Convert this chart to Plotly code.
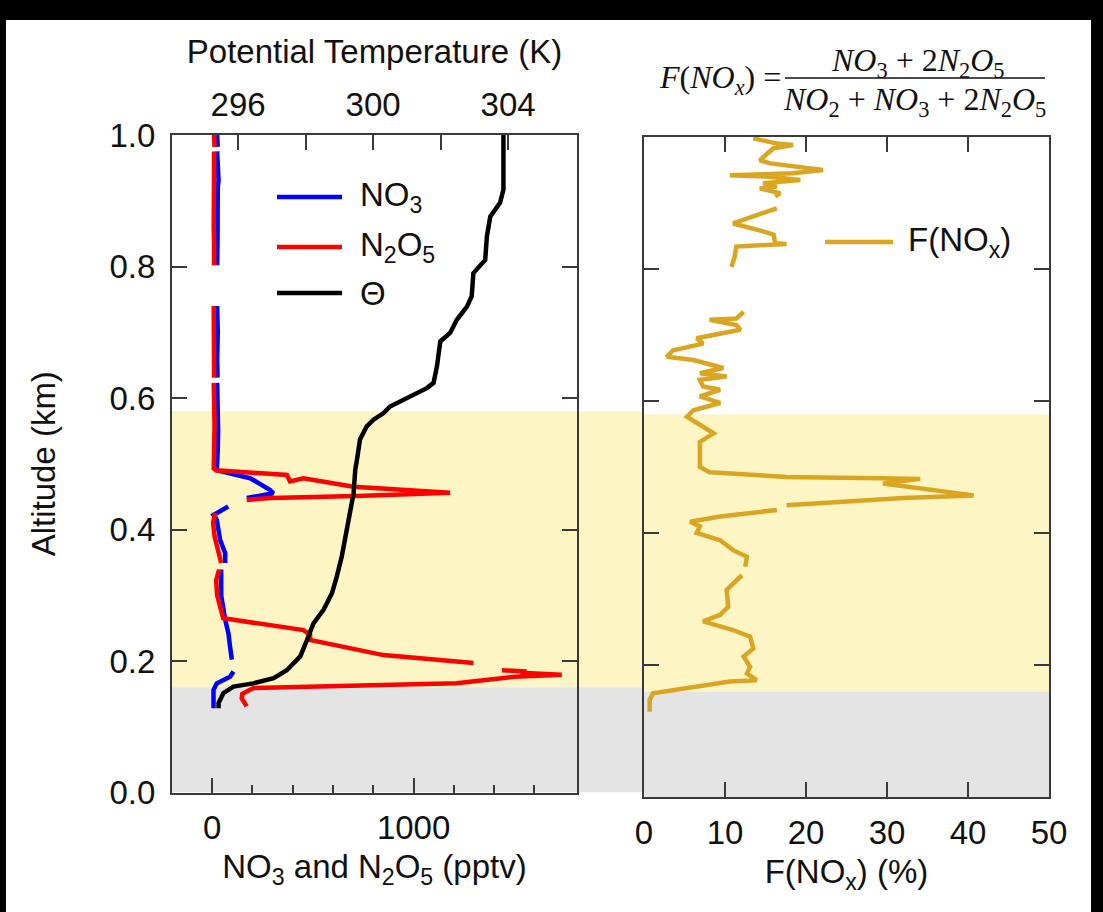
import plotly.graph_objects as go

W, H = 1103, 912

# ---------------- data ----------------
theta_alt = [1.000, 0.917, 0.897, 0.876, 0.846, 0.810, 0.790, 0.755, 0.739, 0.719, 0.699, 0.686,
             0.648, 0.623, 0.615, 0.597, 0.587, 0.577, 0.567, 0.557, 0.537, 0.506, 0.491, 0.455,
             0.440, 0.415, 0.384, 0.359, 0.328, 0.303, 0.278, 0.257, 0.232, 0.207, 0.186, 0.174,
             0.166, 0.161, 0.151, 0.136, 0.128]
theta_K = [303.86, 303.86, 303.76, 303.47, 303.37, 303.32, 302.97, 302.92, 302.78, 302.48, 302.28, 301.99,
           301.89, 301.79, 301.59, 300.90, 300.50, 300.31, 300.01, 299.81, 299.61, 299.52, 299.47, 299.42,
           299.37, 299.27, 299.17, 299.07, 298.92, 298.78, 298.53, 298.23, 298.04, 297.84, 297.44, 297.05,
           296.45, 295.86, 295.56, 295.42, 295.42]

n2o5_alt = [1.000, 0.982, None, 0.975, 0.940, 0.900, 0.860, 0.830, 0.802, None,
            0.740, 0.700, 0.660, 0.631, None,
            0.623, 0.600, 0.560, 0.520, 0.493, 0.490, 0.483, 0.473, 0.478, 0.465, 0.460, 0.456,
            0.451, 0.448, 0.445, None,
            0.425, 0.410, 0.390, 0.370, 0.355, 0.349, None,
            0.339, 0.323, 0.300, 0.280, 0.265, 0.247, 0.240, 0.232, 0.209, 0.197, None,
            0.186, 0.184, 0.182, 0.179, 0.176, 0.168, 0.166, 0.159, 0.150, 0.143, 0.131]
n2o5_pptv = [10, 12, None, 10, 8, 10, 8, 10, 10, None,
             8, 10, 8, 10, None,
             8, 10, 12, 10, 8, 20, 371, 387, 453, 701, 933, 1181,
             718, 288, 172, None,
             15, 5, 12, 30, 40, 45, None,
             35, 20, 25, 40, 55, 453, 486, 486, 850, 1297, None,
             1438, 1560, 1530, 1735, 1500, 1240, 1214, 205, 150, 147, 172]

no3_alt = [1.000, 0.982, None, 0.975, 0.931, 0.920, 0.880, 0.840, 0.802, None,
           0.740, 0.700, 0.660, 0.631, None,
           0.623, 0.590, 0.550, 0.520, 0.493, 0.490, 0.478, 0.460, 0.455, 0.448, None,
           0.435, 0.422, 0.415, 0.384, 0.364, 0.349, None,
           0.339, 0.300, 0.263, 0.242, 0.222, 0.202, None,
           0.184, 0.176, 0.166, 0.156, 0.128]
no3_pptv = [25, 28, None, 25, 32, 28, 25, 27, 25, None,
            25, 28, 25, 27, None,
            25, 28, 30, 28, 25, 23, 189, 288, 304, 172, None,
            80, 7, 23, 40, 65, 65, None,
            45, 45, 65, 81, 89, 98, None,
            106, 89, 23, 7, 7]

fnox_alt = [0.998, 0.990, 0.988, 0.983, 0.965, 0.960, 0.950, 0.945, 0.942, 0.940, 0.935, 0.930,
            0.925, 0.922, 0.915, 0.910, None,
            0.892, 0.869, 0.857, 0.852, 0.839, 0.838, 0.834, 0.819, 0.803, None,
            0.735, 0.725, 0.723, 0.715, 0.708, 0.695, 0.687, 0.677, 0.667, 0.662, 0.650, 0.642,
            0.637, 0.632, 0.622, 0.617, 0.607, 0.597, 0.586, 0.576, 0.564, 0.551, 0.538, 0.500,
            0.492, 0.485, 0.483, 0.482, 0.475, 0.470, 0.457, 0.453, 0.442, None,
            0.435, 0.425, 0.417, 0.410, 0.400, 0.389, 0.374, 0.364, 0.349, None,
            0.336, 0.314, 0.288, 0.276, 0.266, 0.253, 0.243, 0.225, 0.213, 0.197, 0.187, 0.177,
            0.175, 0.157, 0.147, 0.129]
fnox_pct = [13.5, 16.4, 18.4, 16.0, 14.3, 15.6, 22.1, 18.4, 10.6, 15.1, 19.3, 14.7,
            16.4, 14.3, 16.8, 16.2, None,
            16.4, 11.0, 14.7, 16.0, 16.2, 17.6, 11.4, 11.2, 10.8, None,
            12.3, 11.4, 8.1, 11.4, 11.9, 6.5, 7.3, 3.6, 2.8, 6.1, 9.8, 6.9,
            10.2, 6.9, 7.3, 9.4, 6.9, 9.4, 6.1, 5.3, 6.9, 8.6, 6.9, 6.9,
            8.1, 17.6, 29.1, 34.1, 29.5, 32.4, 40.7, 32.0, 17.6, None,
            16.4, 9.4, 5.7, 6.9, 6.5, 9.4, 11.0, 12.7, 12.5, None,
            12.1, 10.2, 10.4, 9.4, 7.3, 11.0, 13.1, 13.5, 12.3, 13.1, 12.7, 13.9,
            10.6, 1.1, 0.7, 0.7]

# shaded layers (km)
residual_layer = [0.16, 0.58]
surface_layer = [0.0, 0.16]

pptv_ticks = [0, 1000]
pptv_minor = [200, 400, 600, 800, 1200, 1400, 1600]
theta_ticks = [296, 298, 300, 302, 304]
theta_labels = ["296", "", "300", "", "304"]
alt_ticks = [0.0, 0.2, 0.4, 0.6, 0.8, 1.0]
fnox_ticks = [0, 10, 20, 30, 40, 50]

# ---------------- layout helpers ----------------
def px(x):
    return x / W

def py(y):
    return 1 - y / H

FONT = "Liberation Sans, Arial, sans-serif"
AX = "#3a3a3a"
FS = 33
LW = 4.5

fig = go.Figure()

fig.add_trace(go.Scatter(x=no3_pptv, y=no3_alt, mode="lines", name="NO<sub>3</sub>",
                         line=dict(color="#0000FF", width=LW), xaxis="x", yaxis="y",
                         connectgaps=False, showlegend=False))
fig.add_trace(go.Scatter(x=n2o5_pptv, y=n2o5_alt, mode="lines", name="N<sub>2</sub>O<sub>5</sub>",
                         line=dict(color="#FF0000", width=LW), xaxis="x", yaxis="y",
                         connectgaps=False, showlegend=False))
fig.add_trace(go.Scatter(x=theta_K, y=theta_alt, mode="lines", name="Θ",
                         line=dict(color="#000000", width=LW), xaxis="x2", yaxis="y",
                         showlegend=False))
fig.add_trace(go.Scatter(x=fnox_pct, y=fnox_alt, mode="lines", name="F(NO<sub>x</sub>)",
                         line=dict(color="#DAA520", width=LW), xaxis="x3", yaxis="y3",
                         connectgaps=False, showlegend=False))

common = dict(showline=True, linecolor=AX, linewidth=2, ticks="inside", tickcolor=AX,
              tickwidth=2, ticklen=15, showgrid=False, zeroline=False, automargin=False,
              tickfont=dict(family=FONT, size=FS, color="#111"))

L_DOM_X = [px(172), px(577)]
L_DOM_Y = [py(792.5), py(135)]
R_DOM_X = [px(644), px(1049)]
R_DOM_Y = [py(797), py(137)]

fig.update_layout(
    template="none",
    width=W, height=H, autosize=False,
    margin=dict(l=0, r=0, t=0, b=0, pad=0),
    paper_bgcolor="white", plot_bgcolor="rgba(0,0,0,0)",
    font=dict(family=FONT, size=FS, color="#111"),
    xaxis=dict(**common, domain=L_DOM_X, anchor="y", range=[-199, 1811],
               tickvals=pptv_ticks, ticklabelstandoff=5,
               minor=dict(tickvals=pptv_minor, ticks="inside", ticklen=8, tickwidth=2, tickcolor=AX),
               title=dict(text="NO<sub>3</sub> and N<sub>2</sub>O<sub>5</sub> (pptv)", standoff=10,
                          font=dict(family=FONT, size=FS, color="#111"))),
    xaxis2=dict(**common, overlaying="x", side="top", anchor="y", range=[294.04, 306.04],
                tickvals=theta_ticks, ticktext=theta_labels, ticklabelstandoff=4,
                title=dict(text="Potential Temperature (K)", standoff=12,
                           font=dict(family=FONT, size=FS, color="#111"))),
    yaxis=dict(**common, domain=L_DOM_Y, anchor="x", range=[0, 1.0], mirror="ticks",
               tickvals=alt_ticks, tickformat=".1f", ticklabelstandoff=8,
               title=dict(text="Altitude (km)", standoff=44,
                          font=dict(family=FONT, size=FS, color="#111"))),
    xaxis3=dict(**common, domain=R_DOM_X, anchor="y3", range=[0, 50], mirror="ticks",
                tickvals=fnox_ticks, ticklabelstandoff=5,
                title=dict(text="F(NO<sub>x</sub>) (%)", standoff=10,
                           font=dict(family=FONT, size=FS, color="#111"))),
    yaxis3=dict(**common, domain=R_DOM_Y, anchor="x3", range=[0, 1.0], mirror="ticks",
                tickvals=alt_ticks, showticklabels=False),
)

shapes = []
YEL = "#FEF5C4"
GRY = "#E4E4E4"
for lo_hi, col in ((residual_layer, YEL), (surface_layer, GRY)):
    shapes.append(dict(type="rect", xref="x domain", yref="y", x0=0, x1=1, y0=lo_hi[0], y1=lo_hi[1],
                       fillcolor=col, line=dict(width=0), layer="below"))
    shapes.append(dict(type="rect", xref="x3 domain", yref="y3", x0=0, x1=1, y0=lo_hi[0], y1=lo_hi[1],
                       fillcolor=col, line=dict(width=0), layer="below"))
    shapes.append(dict(type="rect", xref="paper", yref="y", x0=L_DOM_X[1], x1=R_DOM_X[0],
                       y0=lo_hi[0], y1=lo_hi[1], fillcolor=col, line=dict(width=0), layer="below"))

# legend samples (left panel)
leg_items = [("NO<sub>3</sub>", "#0000FF", 197), ("N<sub>2</sub>O<sub>5</sub>", "#FF0000", 247),
             ("Θ", "#000000", 293)]
annotations = []
for txt, col, yy in leg_items:
    shapes.append(dict(type="line", xref="paper", yref="paper", x0=px(277), x1=px(342),
                       y0=py(yy), y1=py(yy), line=dict(color=col, width=LW)))
    annotations.append(dict(text=txt, xref="paper", yref="paper", x=px(358), y=py(yy),
                            xanchor="left", yanchor="middle", showarrow=False,
                            font=dict(family=FONT, size=FS, color="#111")))
# legend (right panel)
shapes.append(dict(type="line", xref="paper", yref="paper", x0=px(825), x1=px(893),
                   y0=py(242), y1=py(242), line=dict(color="#DAA520", width=LW)))
annotations.append(dict(text="F(NO<sub>x</sub>)", xref="paper", yref="paper", x=px(906), y=py(242),
                        xanchor="left", yanchor="middle", showarrow=False,
                        font=dict(family=FONT, size=FS, color="#111")))

# formula
SER = "Liberation Serif, Times New Roman, serif"
FF = 32
annotations.append(dict(text="<i>F</i>(<i>NO<sub>x</sub></i>) =", xref="paper", yref="paper",
                        x=px(783), y=py(79), xanchor="right", yanchor="middle", showarrow=False,
                        font=dict(family=SER, size=FF, color="#111")))
annotations.append(dict(text="<i>NO</i><sub>3</sub> + 2<i>N</i><sub>2</sub><i>O</i><sub>5</sub>",
                        xref="paper", yref="paper", x=px(918), y=py(63), xanchor="center",
                        yanchor="middle", showarrow=False, font=dict(family=SER, size=FF, color="#111")))
annotations.append(dict(text="<i>NO</i><sub>2</sub> + <i>NO</i><sub>3</sub> + 2<i>N</i><sub>2</sub><i>O</i><sub>5</sub>",
                        xref="paper", yref="paper", x=px(914), y=py(102), xanchor="center",
                        yanchor="middle", showarrow=False, font=dict(family=SER, size=FF, color="#111")))
shapes.append(dict(type="line", xref="paper", yref="paper", x0=px(785), x1=px(1045),
                   y0=py(78), y1=py(78), line=dict(color="#111", width=1.5)))

# black frame strips of the original picture
shapes.append(dict(type="rect", xref="paper", yref="paper", x0=0, x1=1, y0=py(20), y1=1,
                   fillcolor="black", line=dict(width=0), layer="above"))
shapes.append(dict(type="rect", xref="paper", yref="paper", x0=0, x1=px(6), y0=0, y1=1,
                   fillcolor="black", line=dict(width=0), layer="above"))
shapes.append(dict(type="rect", xref="paper", yref="paper", x0=px(1091), x1=1, y0=0, y1=1,
                   fillcolor="black", line=dict(width=0), layer="above"))

fig.update_layout(shapes=shapes, annotations=annotations)
fig.write_html("out.html")
